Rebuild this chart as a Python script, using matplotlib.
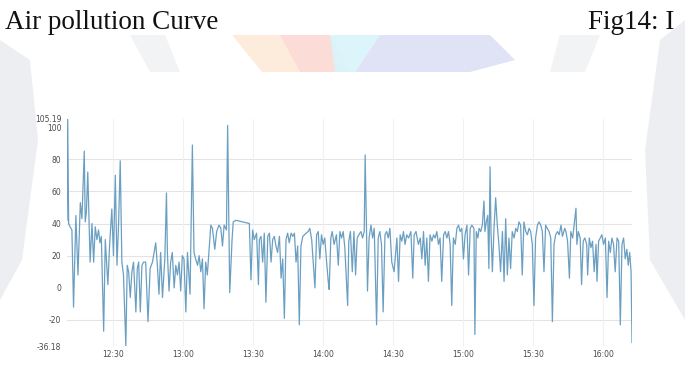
import numpy as np
import matplotlib
matplotlib.use('Agg')
import matplotlib.pyplot as plt
from matplotlib.patches import Polygon

# minutes after 12:00 and the sensor reading at that time
minutes = [
    10.3, 10.6, 11.0, 11.6, 12.4, 13.1, 14.1, 15.0, 16.0, 16.7, 17.7, 18.1, 18.6, 19.2, 20.2,
    21.0, 21.7, 22.4, 23.1, 23.8, 24.4, 25.0, 26.0, 26.7, 27.8, 28.6, 29.5, 30.2, 31.0, 31.7,
    32.4, 33.1, 33.8, 34.5, 35.5, 36.1, 36.7, 37.4, 38.1, 38.8, 39.8, 40.4, 41.0, 41.7, 42.4,
    43.1, 44.0, 45.0, 45.9, 46.9, 48.3, 49.0, 49.7, 50.4, 51.2, 52.2, 52.9, 53.3, 54.0, 54.7,
    55.4, 56.2, 56.9, 57.6, 58.3, 59.0, 59.7, 60.4, 61.2, 61.9, 63.0, 64.0, 64.7, 65.4, 66.2,
    66.9, 67.6, 68.3, 69.0, 69.7, 70.4, 71.9, 72.6, 73.6, 74.4, 75.4, 76.2, 76.9, 77.6, 78.6,
    79.1, 80.0, 81.0, 81.5, 82.7, 85.5, 88.4, 89.1, 89.8, 90.5, 91.5, 92.3, 92.7, 93.4, 94.1,
    94.8, 95.5, 96.3, 97.0, 97.7, 98.4, 99.1, 99.8, 100.5, 101.3, 102.0, 102.7, 103.4, 104.1, 104.8,
    105.5, 106.3, 107.0, 107.7, 108.4, 109.1, 109.8, 110.5, 111.3, 112.7, 113.6, 114.3, 115.1, 116.5, 117.2,
    117.9, 118.6, 119.3, 120.0, 120.7, 121.5, 122.2, 122.6, 123.3, 123.9, 124.7, 125.7, 126.5, 127.2, 127.9,
    128.6, 129.3, 130.5, 131.0, 131.7, 132.5, 133.2, 133.9, 134.6, 135.3, 136.2, 136.9, 137.6, 138.0, 138.6,
    139.0, 139.7, 140.5, 141.2, 141.9, 142.9, 143.6, 144.3, 145.0, 145.7, 146.5, 147.2, 147.9, 148.6, 149.4,
    150.4, 151.6, 152.3, 153.0, 153.7, 154.4, 155.1, 155.8, 156.6, 157.6, 158.4, 159.0, 159.8, 160.8, 161.6,
    162.3, 163.0, 163.7, 164.4, 165.1, 165.8, 166.6, 167.3, 168.0, 168.7, 169.4, 170.1, 170.8, 171.6, 172.3,
    173.0, 173.7, 174.4, 175.1, 175.8, 176.6, 177.3, 178.0, 178.7, 179.4, 180.1, 180.8, 181.6, 182.3, 183.0,
    183.7, 184.6, 185.0, 185.6, 186.3, 186.8, 187.5, 188.2, 188.9, 189.3, 189.9, 190.5, 191.0, 191.5, 191.9,
    192.5, 193.2, 193.9, 194.6, 195.3, 196.0, 196.8, 197.5, 198.2, 198.9, 199.6, 200.3, 201.0, 201.8, 202.5,
    203.2, 203.9, 204.6, 205.3, 206.0, 206.8, 207.5, 208.2, 208.9, 209.6, 210.3, 211.0, 211.8, 212.5, 213.2,
    213.9, 214.6, 215.3, 216.0, 216.8, 217.5, 218.2, 218.9, 219.6, 220.4, 221.1, 221.9, 222.5, 223.5, 224.0,
    224.7, 225.5, 226.1, 226.9, 228.3, 228.7, 229.3, 230.1, 230.7, 231.4, 232.1, 232.9, 233.3, 234.0, 234.7,
    235.4, 236.1, 236.9, 237.3, 238.0, 238.7, 239.4, 240.1, 240.9, 241.6, 242.3, 243.0, 243.7, 244.4, 245.1,
    245.9, 246.6, 247.3, 248.0, 248.7, 249.4, 250.1, 250.7, 251.3, 251.9, 252.3,
]
values = [
    42, 105.19, 40, 38, 36, -12, 45, 8, 53, 43, 85, 41, 47, 72, 16,
    40, 16, 38, 30, 36, 28, 32, -27, 30, 2, 28, 49, 20, 70, 14,
    40, 79, 16, 8, -36.18, 14, 10, -6, 10, 16, -15, 12, 16, -15, 14,
    16, 16, -21, 12, 16, 28, 14, -4, 22, -6, 18, 59, 22, -2, 16,
    22, 0, 14, 8, 16, -2, 20, 18, -15, 22, -4, 88.8, 22, 18, 14,
    20, 10, 18, -13, 16, 8, 39, 37, 24, 35, 39, 37, 26, 39, 36,
    101, -3, 30, 41, 42, 41, 40, 5, 36, 30, 34, 2, 30, 32, 16,
    34, -9, 32, 34, 16, 30, 32, 26, 22, 32, 6, 18, -19, 30, 34,
    28, 34, 32, 34, 16, 26, -23, 26, 32, 34, 35, 37, 30, 0, 33,
    35, 18, 33, 27, 31, 16, 4, -1, 31, 35, 27, 33, 14, 35, 31,
    35, 25, -11, 29, 35, 10, 35, 8, 31, 33, 35, 31, 35, 82.6, 35,
    -2, 31, 39, 31, 37, -23, 31, 35, 27, -15, 33, 35, 31, 37, 16,
    10, 31, 4, 33, 29, 35, 27, 33, 31, 35, 6, 33, 35, 27, 31,
    18, 35, 14, 31, 4, 33, 29, 33, 31, 35, 27, 31, 4, 33, 35,
    31, 35, 27, -11, 31, 27, 37, 39, 35, 37, 18, 33, 39, 8, 37,
    39, 37, -29, 35, 31, 37, 35, 39, 54, 35, 41, 45, 12, 75.3, 35,
    10, 37, 56, 39, 27, 10, 35, 4, 43, 8, 31, 12, 35, 31, 37,
    35, 41, 39, 8, 41, 35, 33, 37, 35, 27, -11, 31, 39, 41, 39,
    35, 10, 39, 37, 35, 31, -21, 27, 33, 35, 33, 39, 32, 37, 35,
    29, 6, 35, 31, 49.5, 27, 35, 31, 2, 29, 31, 27, 8, 31, 25,
    29, 10, 27, 4, 29, 31, 33, 27, 31, -6, 29, 22, 31, 27, 10,
    31, 29, -23, 27, 31, 18, 24, 14, 22, 10, -34,
]

y_ticks = [-36.18, -20, 0, 20, 40, 60, 80, 100, 105.19]
y_ticklabels = ['-36.18', '-20', '0', '20', '40', '60', '80', '100', '105.19']
grid_rows = [-20, 20, 40, 60, 80]
x_ticks = [30, 60, 90, 120, 150, 180, 210, 240]
x_ticklabels = ['12:30', '13:00', '13:30', '14:00', '14:30', '15:00', '15:30', '16:00']

W, H = 685, 371
fig = plt.figure(figsize=(W/100, H/100), dpi=100)
fig.patch.set_facecolor('white')

# faint scan watermark behind the page
bg = fig.add_axes([0, 0, 1, 1], zorder=-5)
bg.set_xlim(0, W); bg.set_ylim(H, 0); bg.axis('off')
wm = [
    ([(232, 35), (330, 35), (350, 72), (262, 72)], '#fde8d2', 0.8),
    ([(280, 35), (330, 35), (340, 72), (300, 72)], '#fbd6d6', 0.7),
    ([(330, 35), (380, 35), (355, 72), (335, 72)], '#d8f4fa', 0.9),
    ([(380, 35), (490, 35), (515, 60), (470, 72), (355, 72)], '#dde0f4', 0.9),
    ([(0, 40), (30, 60), (38, 140), (22, 260), (0, 300)], '#e6e8ec', 0.7),
    ([(660, 40), (685, 20), (685, 320), (650, 260), (645, 150)], '#e6e8ec', 0.7),
    ([(130, 35), (165, 35), (180, 72), (150, 72)], '#eceef0', 0.7),
    ([(560, 35), (600, 35), (585, 72), (550, 72)], '#eceef0', 0.7),
]
for pts, col, a in wm:
    bg.add_patch(Polygon(pts, closed=True, facecolor=col, edgecolor='none', alpha=a))

fig.text(5/W, 1 - 29/H, 'Air pollution Curve', family='Liberation Serif',
         fontsize=19.5, va='baseline', ha='left', color='#111111')
fig.text(588/W, 1 - 29/H, 'Fig14: I', family='Liberation Serif',
         fontsize=19.5, va='baseline', ha='left', color='#111111')

ax = fig.add_axes([67/W, 1 - 346/H, (632-67)/W, (346-118.7)/H])
ax.set_facecolor('none')
for r in grid_rows:
    ax.axhline(r, color='#e3e3e3', lw=0.8, zorder=0)
for t in x_ticks:
    ax.axvline(t, color='#f1f1f1', lw=0.8, zorder=0)

ax.plot(minutes, values, color='#6a9fc2', lw=0.9, zorder=2)

ax.set_xlim(minutes[0], minutes[-1])
ax.set_ylim(-36.18, 105.19)
ax.set_yticks(y_ticks)
ax.set_yticklabels(y_ticklabels)
ax.set_xticks(x_ticks)
ax.set_xticklabels(x_ticklabels)
ax.tick_params(axis='both', length=0, labelsize=5.5, labelcolor='#4a4a4a')
ax.tick_params(axis='y', pad=4)
ax.tick_params(axis='x', pad=3)
for s in ax.spines.values():
    s.set_visible(False)

fig.savefig('out.png', dpi=100, facecolor='white')
